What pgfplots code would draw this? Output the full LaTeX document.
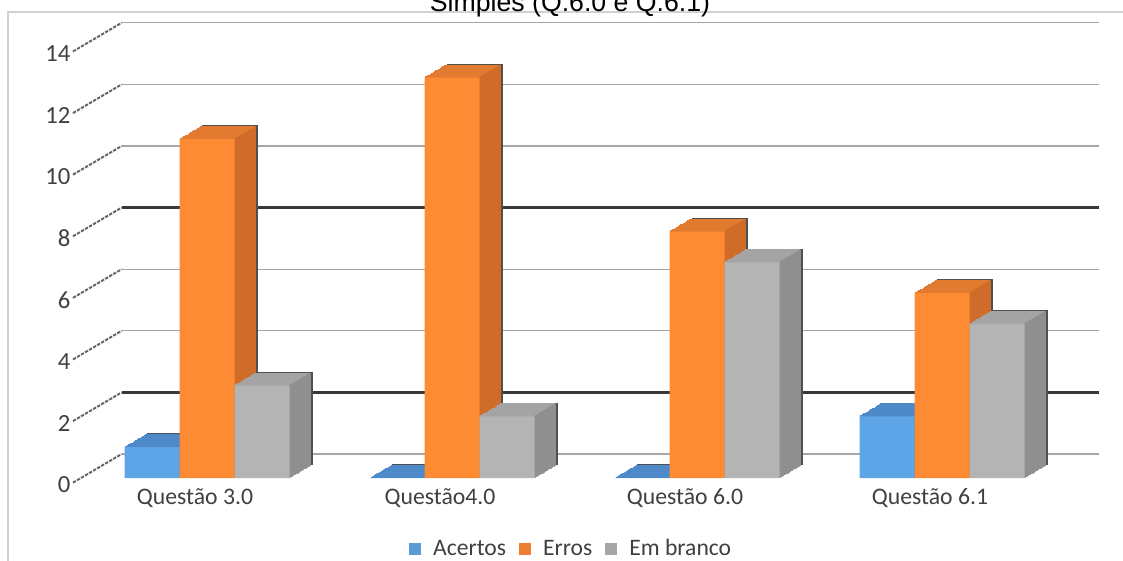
\documentclass[border=0pt]{standalone}
\usepackage{pgfplots}
\pgfplotsset{compat=1.18}
\usepackage{pgfplotstable}
\usepackage{fontspec}
\setmainfont{Carlito}
\newfontfamily\arialfont{Liberation Sans}

\definecolor{aFront}{HTML}{5EA5E8}
\definecolor{aTop}{HTML}{4E89C9}
\definecolor{aSide}{HTML}{4479B3}
\definecolor{eFront}{HTML}{FD8B34}
\definecolor{eTop}{HTML}{E27A2F}
\definecolor{eSide}{HTML}{D06C2A}
\definecolor{gFront}{HTML}{B4B4B4}
\definecolor{gTop}{HTML}{A4A4A4}
\definecolor{gSide}{HTML}{8F8F8F}
\definecolor{legA}{HTML}{5B9BD5}
\definecolor{legE}{HTML}{ED7D31}
\definecolor{legG}{HTML}{A5A5A5}
\definecolor{lbl}{HTML}{404040}
\definecolor{edge}{HTML}{505050}

\pgfplotstableread{
x acertos erros branco
0 1 11 3
1 0 13 2
2 0 8 7
3 2 6 5
}\datatable

% #1 column, #2 bar shift, #3 strip shift, #4 top colour, #5 side colour
\newcommand{\extrude}[5]{%
  \addplot[forget plot, ybar, bar width=41.25pt, bar shift=#2, fill=#4, draw=edge, line width=0.7pt,
      xshift=17pt, yshift=10pt] table[x=x,y=#1]{\datatable};
  \pgfplotsinvokeforeach{15,14,...,1}{%
    \addplot[forget plot, ybar, bar width=41.25pt, bar shift=#2, fill=#4, draw=#4, line width=0.7pt,
      xshift=##1*1.0625pt, yshift=##1*0.625pt] table[x=x,y=#1]{\datatable};
  }%
  \addplot[forget plot, ybar, bar width=1.4pt, bar shift=#3, fill=edge, draw=none,
      xshift=17pt, yshift=10pt] table[x=x,y=#1]{\datatable};
  \pgfplotsinvokeforeach{15,14,...,1}{%
    \addplot[forget plot, ybar, bar width=1.4pt, bar shift=#3, fill=#5, draw=none,
      xshift=##1*1.0625pt, yshift=##1*0.625pt] table[x=x,y=#1]{\datatable};
  }%
}

\begin{document}
\begin{tikzpicture}
\useasboundingbox (0,0) rectangle (842.25pt,420pt);
\draw[black!18, line width=0.8pt] (6pt,-20pt) rectangle (860pt,411pt);
\node[font=\arialfont\fontsize{20}{24}\selectfont, anchor=base] at (427.5pt,411pt) {Simples (Q.6.0 e Q.6.1)};
\begin{axis}[
  at={(56.25pt,61.5pt)}, anchor=south west,
  scale only axis, width=732.75pt, height=323.4pt,
  xmin=-0.5388, xmax=3.449, ymin=0, ymax=14,
  clip=false,
  axis line style={draw=none},
  major tick length=0pt,
  xtick={0,1,2,3},
  xticklabels={Questão 3.0, Questão4.0, Questão 6.0, Questão 6.1},
  ytick={0,2,...,14},
  /pgf/number format/assume math mode=true,
  xticklabel style={font=\fontsize{17.8}{20}\selectfont, text=lbl, xshift=-9pt, yshift=-4.5pt},
  yticklabel style={font=\fontsize{18.5}{20}\selectfont, text=lbl, yshift=-5pt},
  ymajorgrids,
  major grid style={draw=black!35, line width=1pt, xshift=35pt, yshift=18pt},
  extra y ticks={2,8},
  extra y tick labels={},
  extra y tick style={major grid style={draw=black!78, line width=2pt}},
  legend style={at={(axis description cs:0.508,-0.164)}, anchor=center, draw=none,
    legend columns=-1, font=\fontsize{17.7}{20}\selectfont, text=lbl,
    /tikz/every odd column/.append style={column sep=7.25pt},
    /tikz/every even column/.append style={column sep=7.5pt}},
]
\pgfplotsinvokeforeach{0,2,...,14}{%
  \draw[black!60, line width=1.5pt, dash pattern=on 2.5pt off 1pt]
    ([xshift=-1.5pt,yshift=-3.5pt]axis cs:-0.5388,#1) -- ([xshift=35pt,yshift=18pt]axis cs:-0.5388,#1);
}
\extrude{acertos}{-41.25pt}{-21.325pt}{aTop}{aSide}
\addplot[ybar, bar width=41.25pt, bar shift=-41.25pt, fill=aFront, draw=none,
  legend image code/.code={\fill[legA] (0pt,-4.5pt) rectangle (9pt,4.5pt);}]
  table[x=x,y=acertos]{\datatable};
\addlegendentry{Acertos}
\extrude{erros}{0pt}{19.925pt}{eTop}{eSide}
\addplot[ybar, bar width=41.25pt, bar shift=0pt, fill=eFront, draw=none,
  legend image code/.code={\fill[legE] (0pt,-4.5pt) rectangle (9pt,4.5pt);}]
  table[x=x,y=erros]{\datatable};
\addlegendentry{Erros}
\extrude{branco}{41.25pt}{61.175pt}{gTop}{gSide}
\addplot[ybar, bar width=41.25pt, bar shift=41.25pt, fill=gFront, draw=none,
  legend image code/.code={\fill[legG] (0pt,-4.5pt) rectangle (9pt,4.5pt);}]
  table[x=x,y=branco]{\datatable};
\addlegendentry{Em branco}
\end{axis}
\end{tikzpicture}
\end{document}
